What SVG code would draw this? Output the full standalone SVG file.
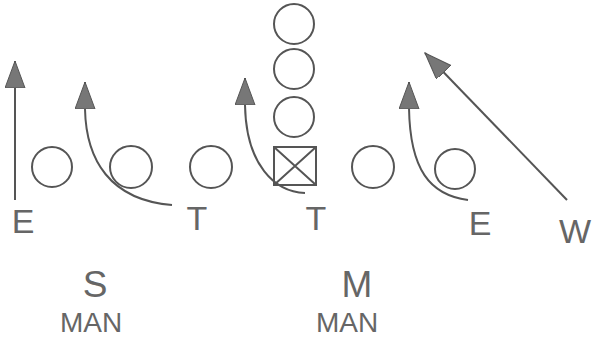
<svg xmlns="http://www.w3.org/2000/svg" width="595" height="338" viewBox="0 0 595 338">
<style>
.p{fill:none;stroke:#555;stroke-width:2}
.t{font-family:"Liberation Sans",Arial,sans-serif;fill:#666;text-anchor:middle}
.big{font-size:34px}
.lb{font-size:37px}
.man{font-size:28px}
</style>
<defs>
<marker id="ah" markerUnits="userSpaceOnUse" markerWidth="28" markerHeight="22" refX="27" refY="10" orient="auto" viewBox="0 0 28 22">
<path d="M0,0 L27,10 L0,20 z" fill="#777" stroke="#555" stroke-width="1"/>
</marker>
</defs>
<rect width="595" height="338" fill="#fff"/>
<g id="connectors">
<path class="p" d="M15,200 L15,61" marker-end="url(#ah)"/>
<path class="p" d="M172,205 C110,200 86,160 85,109 L85,82" marker-end="url(#ah)"/>
<path class="p" d="M305,193 C275,192 246,165 245,105 L245,78" marker-end="url(#ah)"/>
<path class="p" d="M468,200 C430,195 410,170 409,108 L409,82" marker-end="url(#ah)"/>
<path class="p" d="M567,200 L425,53" marker-end="url(#ah)"/>
</g>
<g id="n1"><circle class="p" cx="52" cy="167" r="20"/></g>
<g id="n2"><circle class="p" cx="131" cy="167" r="21"/></g>
<g id="n3"><circle class="p" cx="211" cy="167" r="21"/></g>
<g id="center"><rect class="p" x="274" y="147" width="42" height="38"/><path class="p" d="M274,147 L316,185 M316,147 L274,185" stroke-width="1"/></g>
<g id="n4"><circle class="p" cx="373" cy="167" r="21"/></g>
<g id="n5"><circle class="p" cx="455" cy="169" r="20"/></g>
<g id="b1"><circle class="p" cx="294" cy="24" r="20"/></g>
<g id="b2"><circle class="p" cx="294" cy="69" r="20"/></g>
<g id="b3"><circle class="p" cx="294" cy="117" r="20"/></g>
<g id="labels">
<text class="t big" x="23" y="233">E</text>
<text class="t big" x="197" y="230">T</text>
<text class="t big" x="316" y="230">T</text>
<text class="t big" x="480" y="235">E</text>
<text class="t big" x="575" y="243">W</text>
<text class="t lb" x="95" y="297">S</text>
<text class="t lb" x="357" y="297">M</text>
<text class="t man" x="91" y="332">MAN</text>
<text class="t man" x="347" y="332">MAN</text>
</g>
</svg>
